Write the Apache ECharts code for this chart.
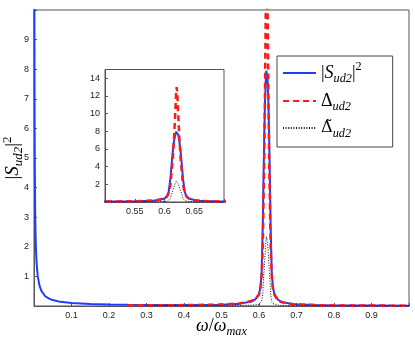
<!DOCTYPE html>
<html>
<head>
<meta charset="utf-8">
<script src="https://cdn.jsdelivr.net/npm/echarts@6/dist/echarts.min.js"></script>
<style>
  html, body { margin: 0; padding: 0; background: #fff; }
  #chart { width: 415px; height: 341px; }
</style>
</head>
<body>
<div id="chart"></div>
<script>
// frequency grid (omega / omega_max), shared by all three curves
const omega = [
  0.0005, 0.001, 0.0015, 0.002, 0.003, 0.004, 0.005, 0.007, 0.01, 0.015,
  0.02, 0.03, 0.04, 0.05, 0.07, 0.1, 0.15, 0.2, 0.25, 0.3,
  0.4, 0.5, 0.55, 0.58, 0.59, 0.6, 0.604, 0.607, 0.61, 0.612,
  0.614, 0.616, 0.618, 0.6195, 0.6205, 0.6215, 0.623, 0.625, 0.627, 0.629,
  0.631, 0.634, 0.637, 0.641, 0.65, 0.66, 0.69, 0.75, 0.8, 0.9,
  1.0,
];
// |S_ud2|^2
const sud2 = [
  20, 10, 6.7, 5, 3.3, 2.5, 2.0, 1.43, 1.0, 0.67,
  0.5, 0.33, 0.25, 0.2, 0.14, 0.1, 0.07, 0.05, 0.04, 0.035,
  0.03, 0.045, 0.08, 0.15, 0.22, 0.4, 0.65, 1.15, 2.7, 4.3,
  5.8, 6.9, 7.6, 7.95, 8.0, 7.95, 7.6, 6.9, 5.8, 4.3,
  2.7, 1.15, 0.65, 0.4, 0.22, 0.14, 0.06, 0.03, 0.02, 0.015,
  0.01,
];
// Delta_ud2 (dashed), not drawn below 0.25
const delta = [
  null, null, null, null, null, null, null, null, null, null,
  null, null, null, null, null, null, null, null, 0.02, 0.025,
  0.03, 0.05, 0.09, 0.17, 0.25, 0.38, 0.6, 1.0, 2.0, 3.5,
  5.0, 7.2, 10.0, 12.3, 13.0, 12.3, 10.0, 7.2, 5.0, 3.5,
  2.0, 1.0, 0.6, 0.38, 0.2, 0.13, 0.06, 0.03, 0.02, 0.015,
  0.01,
];
// tilde Delta_ud2 (dotted)
const deltaTilde = [
  null, null, null, null, null, null, null, null, null, null,
  null, null, null, null, null, null, null, null, null, 0.01,
  0.01, 0.015, 0.02, 0.03, 0.04, 0.05, 0.08, 0.15, 0.4, 0.9,
  1.3, 1.7, 2.1, 2.35, 2.4, 2.35, 2.1, 1.7, 1.3, 0.9,
  0.4, 0.15, 0.08, 0.05, 0.03, 0.02, 0.015, 0.01, 0.01, 0.01,
  0.01,
];

const mainXTicks = [0.1, 0.2, 0.3, 0.4, 0.5, 0.6, 0.7, 0.8, 0.9];
const mainYTicks = [1, 2, 3, 4, 5, 6, 7, 8, 9];
const insetXTicks = [0.55, 0.6, 0.65];
const insetYTicks = [2, 4, 6, 8, 10, 12, 14];

const names = ["S", "D", "T"];
const legendText = {
  S: "{n||}{i|S}{s|ud2}{n||}{p|2}",
  D: "{n|Δ}{s|ud2}",
  T: "{t|Δ̃}{s|ud2}",
};

const serif = "Liberation Serif";
const rich = (size) => ({
  n: { fontFamily: serif, fontSize: size, lineHeight: 24, verticalAlign: "middle", color: "#000" },
  t: { fontFamily: "DejaVu Serif", fontSize: size * 0.9, lineHeight: 24, verticalAlign: "middle", color: "#000" },
  i: { fontFamily: serif, fontSize: size, fontStyle: "italic", lineHeight: 24, verticalAlign: "middle", color: "#000" },
  s: { fontFamily: serif, fontSize: size * 0.68, fontStyle: "italic", lineHeight: 11, verticalAlign: "bottom", color: "#000" },
  p: { fontFamily: serif, fontSize: size * 0.68, lineHeight: 11, verticalAlign: "top", color: "#000" },
});

const pairs = (ys) => omega.map((x, i) => [x, ys[i]]);
const frame = "#555";
const tickLabel = { fontFamily: "Liberation Sans", fontSize: 9, color: "#222", margin: 5 };

function valueAxis(opts, ticks) {
  return Object.assign(
    {
      type: "value",
      axisLine: { show: true, lineStyle: { color: frame, width: 1 } },
      axisTick: { inside: true, length: 3, lineStyle: { color: frame } },
      splitLine: { show: false },
      nameMoveOverlap: false,
      axisLabel: Object.assign({}, tickLabel, {
        formatter: (v) => (ticks.some((t) => Math.abs(t - v) < 1e-9) ? String(v) : ""),
      }),
    },
    opts
  );
}

const blue = { color: "#1f3cff", width: 2 };
const red = { color: "#ff1a1a", width: 2.5, type: [6, 4] };
const dots = { color: "#111", width: 1, type: [1, 1.6] };

function seriesSet(axisIndex) {
  return [
    { name: "S", data: pairs(sud2), lineStyle: blue, itemStyle: { color: blue.color } },
    { name: "D", data: pairs(delta), lineStyle: red, itemStyle: { color: red.color } },
    { name: "T", data: pairs(deltaTilde), lineStyle: dots, itemStyle: { color: dots.color } },
  ].map((s) => Object.assign(s, {
    type: "line",
    xAxisIndex: axisIndex,
    yAxisIndex: axisIndex,
    symbol: "none",
    clip: true,
    animation: false,
  }));
}

const chart = echarts.init(document.getElementById("chart"), null, { renderer: "canvas" });
chart.setOption({
  animation: false,
  backgroundColor: "#fff",
  grid: [
    { left: 34, right: 6, top: 10, bottom: 35, show: true, borderColor: frame, borderWidth: 1, outerBoundsMode: "none" },
    { left: 105, top: 69.5, width: 119, height: 132.5, show: true, borderColor: frame, borderWidth: 1, backgroundColor: "#fff", outerBoundsMode: "none" },
  ],
  xAxis: [
    valueAxis({
      gridIndex: 0, min: 0, max: 1, interval: 0.1,
      name: "{i|ω}{n|/}{i|ω}{s|max}", nameLocation: "middle", nameGap: 8,
      nameTextStyle: { rich: rich(18) },
    }, mainXTicks),
    valueAxis({ gridIndex: 1, min: 0.5, max: 0.7, interval: 0.05 }, insetXTicks),
  ],
  yAxis: [
    valueAxis({
      gridIndex: 0, min: 0, max: 10, interval: 1,
      name: "{n||}{i|S}{s|ud2}{n||}{p|2}", nameLocation: "middle", nameGap: 9, nameRotate: 90,
      nameTextStyle: { rich: rich(19) },
    }, mainYTicks),
    valueAxis({ gridIndex: 1, min: 0, max: 15, interval: 2 }, insetYTicks),
  ],
  legend: {
    data: names,
    orient: "vertical",
    left: 277,
    top: 56,
    padding: [5, 31, 7, 5],
    itemWidth: 33,
    itemHeight: 14,
    itemGap: 7,
    borderColor: "#444",
    borderWidth: 1,
    backgroundColor: "#fff",
    itemStyle: { color: "transparent", borderColor: "transparent", borderWidth: 0 },
    formatter: (name) => legendText[name],
    textStyle: { rich: rich(18) },
  },
  series: [...seriesSet(0), ...seriesSet(1)],
});
</script>
</body>
</html>
